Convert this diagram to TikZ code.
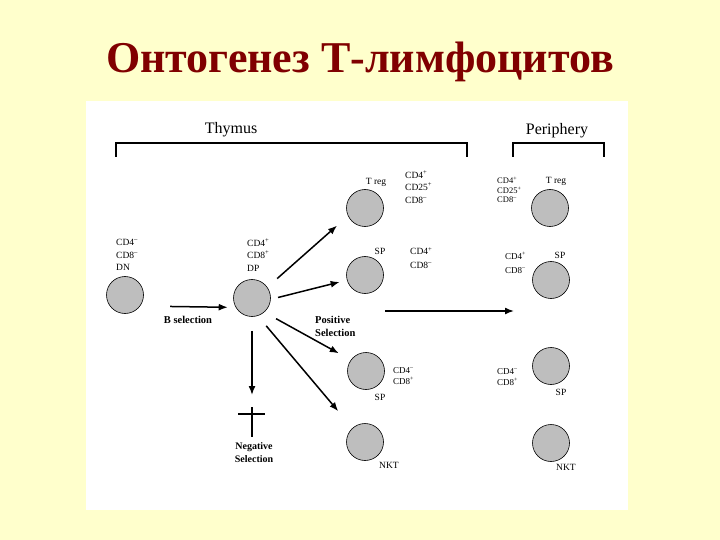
\documentclass[tikz,border=0pt]{standalone}
\usepackage{fontspec}
\setmainfont{Liberation Serif}
\usetikzlibrary{arrows.meta}

\definecolor{fond}{HTML}{FFFFCC}
\definecolor{titre}{HTML}{800000}
\definecolor{gris}{HTML}{BEBEBE}

\tikzset{cellule/.style = {circle, draw, fill=gris, line width=0.6pt, minimum size=37pt, inner sep=0pt},
         etiq/.style = {inner sep=0pt, align=left, font=\fontsize{9.5}{12.5}\selectfont},
         fleche/.style = {-{Latex[length=9pt,width=7pt]}, line width=1.5pt},
         crochet/.style = {line width=1.5pt}
        }

\begin{document}
\begin{tikzpicture}[x=1pt, y=-1pt]
  \fill[fond] (0,0) rectangle (720,540);
  \fill[white] (86,101) rectangle (628,510);
  \node[anchor=base, text=titre, font=\fontsize{44}{44}\selectfont\bfseries] (titre) at (360,73) {Онтогенез Т-лимфоцитов};
  % crochets
  \draw[crochet] (116,157) -- (116,143) -- (467,143) -- (467,157);
  \draw[crochet] (513,157) -- (513,143) -- (604,143) -- (604,157);
  \node[etiq, font=\fontsize{16}{16}\selectfont] (thymus) at (231,130) {Thymus};
  \node[etiq, font=\fontsize{16}{16}\selectfont] (periph) at (557,131) {Periphery};
  % cellules
  \foreach \nom/\x/\y in {dn/125/295, dp/252/298, treg/365/208, sp4/365/275, sp8/366/371, nkt/365/442,
                          ptreg/550/208, psp4/551/280, psp8/551/366, pnkt/551/443}
      {\node[cellule] (\nom) at (\x,\y) {};}
  % etiquettes
  \node[etiq, anchor=west] (ldn) at (116,255) {CD4\textsuperscript{--}\\CD8\textsuperscript{--}\\DN};
  \node[etiq, anchor=west] (ldp) at (247,255) {CD4\textsuperscript{+}\\CD8\textsuperscript{+}\\DP};
  \node[etiq] (ltreg) at (376,182) {T reg};
  \node[etiq, anchor=west] (mtreg) at (405,187) {CD4\textsuperscript{+}\\CD25\textsuperscript{+}\\CD8\textsuperscript{--}};
  \node[etiq] (lsp4) at (380,251) {SP};
  \node[etiq, anchor=west, font=\fontsize{9.5}{13.5}\selectfont] (msp4) at (410,258) {CD4\textsuperscript{+}\\CD8\textsuperscript{--}};
  \node[etiq, anchor=west, font=\fontsize{9}{11}\selectfont] (msp8) at (393,376) {CD4\textsuperscript{--}\\CD8\textsuperscript{+}};
  \node[etiq] (lsp8) at (380,397) {SP};
  \node[etiq] (lnkt) at (389,465) {NKT};
  \node[etiq] (lptreg) at (556,181) {T reg};
  \node[etiq, anchor=west, font=\fontsize{8.5}{9.5}\selectfont] (mptreg) at (497,190) {CD4\textsuperscript{+}\\CD25\textsuperscript{+}\\CD8\textsuperscript{--}};
  \node[etiq] (lpsp4) at (560,255) {SP};
  \node[etiq, anchor=west, font=\fontsize{9}{14}\selectfont] (mpsp4) at (505,263) {CD4\textsuperscript{+}\\CD8\textsuperscript{--}};
  \node[etiq, anchor=west, font=\fontsize{9}{10.5}\selectfont] (mpsp8) at (497,377) {CD4\textsuperscript{--}\\CD8\textsuperscript{+}};
  \node[etiq] (lpsp8) at (561,392) {SP};
  \node[etiq] (lpnkt) at (566,467) {NKT};
  \node[etiq, font=\fontsize{10.5}{12.5}\selectfont\bfseries] (bsel) at (188,320) {B selection};
  \node[etiq, anchor=west, font=\fontsize{10.5}{13}\selectfont\bfseries] (psel) at (315,326) {Positive\\Selection};
  \node[etiq, align=center, font=\fontsize{10}{13}\selectfont\bfseries] (nsel) at (254,453) {Negative\\Selection};
  % fleches
  \draw[fleche, shorten <=30pt, shorten >=8pt] (dn.-36) -- (dp.210);
  \draw[fleche, shorten <=13pt, shorten >=14.6pt] (dp.35) -- (treg.205);
  \draw[fleche, shorten <=7.5pt, shorten >=7.5pt] (dp.-4) -- (sp4.196);
  \draw[fleche, shorten <=13.4pt, shorten >=13.7pt] (dp.-49) -- (sp8.144);
  \draw[fleche, shorten <=13pt, shorten >=22pt] (dp.-72) -- (nkt.132);
  \coordinate (neg) at (252,414);
  \draw[fleche, shorten <=14pt, shorten >=19pt] (dp.south) -- (neg);
  \draw[crochet] (neg) ++(-14,0) -- ++(27,0);
  \draw[crochet] (neg) ++(0,-7) -- ++(0,30);
  \coordinate (sortie) at (385,311);
  \coordinate (entree) at (514,311);
  \draw[fleche] (sortie) -- (entree);
\end{tikzpicture}
\end{document}
